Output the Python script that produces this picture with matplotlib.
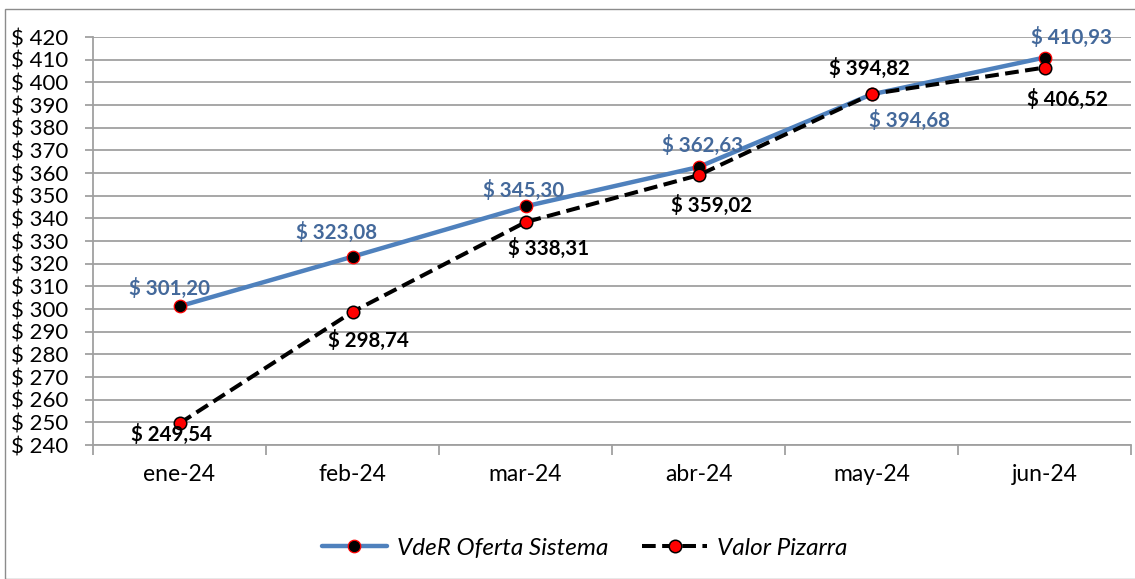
import matplotlib
matplotlib.use("Agg")
import matplotlib.pyplot as plt
from matplotlib.patches import Rectangle
import numpy as np

categories = ["ene-24", "feb-24", "mar-24", "abr-24", "may-24", "jun-24"]
oferta = [301.20, 323.08, 345.30, 362.63, 394.68, 410.93]
pizarra = [249.54, 298.74, 338.31, 359.02, 394.82, 406.52]
oferta_labels = ["$ 301,20", "$ 323,08", "$ 345,30", "$ 362,63", "$ 394,68", "$ 410,93"]
pizarra_labels = ["$ 249,54", "$ 298,74", "$ 338,31", "$ 359,02", "$ 394,82", "$ 406,52"]
yticks = list(range(240, 421, 10))
ytick_labels = ["$ %d" % v for v in yticks]

plt.rcParams['font.family'] = ['Lato', 'DejaVu Sans']

fig = plt.figure(figsize=(11.35, 5.79), dpi=100)
ax = fig.add_axes([93/1135, 1-445/579, (1131-93)/1135, (445-37)/579])

# outer chart border
fig.patches.append(Rectangle((5/1135, 0), 1.2, 1-9/579, transform=fig.transFigure,
                             fill=False, edgecolor='#8c8c8c', linewidth=1.0))

x = np.arange(len(categories))
blue = '#4F81BD'
ax.plot(x, oferta, color=blue, linewidth=3.2, marker='o', markersize=9,
        markerfacecolor='black', markeredgecolor='red', markeredgewidth=0.9,
        label='VdeR Oferta Sistema', zorder=3, solid_capstyle='round')
ax.plot(x, pizarra, color='black', linewidth=2.9, linestyle=(0, (3.4, 1.6)), marker='o',
        markersize=9, markerfacecolor='red', markeredgecolor='black', markeredgewidth=1.1,
        label='Valor Pizarra', zorder=4)

blue_off = [(-10, 18), (-16, 24), (-2, 16), (4, 22), (38, -26), (27, 20)]
black_off = [(-8, -11), (16, -29), (23, -26), (13, -30), (-2, 26), (23, -32)]
for i in range(len(x)):
    ax.annotate(oferta_labels[i], (x[i], oferta[i]), xytext=blue_off[i], textcoords='offset pixels',
                ha='center', va='center', fontsize=14.8, fontweight='bold', color='#44699B', zorder=5)
    ax.annotate(pizarra_labels[i], (x[i], pizarra[i]), xytext=black_off[i], textcoords='offset pixels',
                ha='center', va='center', fontsize=14.8, fontweight='bold', color='black', zorder=5)

ax.set_xlim(-0.5, len(x) - 0.5)
ax.set_ylim(240, 420)
ax.set_yticks(yticks)
ax.set_yticklabels(ytick_labels, fontsize=16)
ax.set_xticks(x)
ax.set_xticklabels(categories, fontsize=16.5)
ax.set_xticks(np.arange(-0.5, len(x), 1), minor=True)
ax.tick_params(axis='x', which='major', length=0, pad=14)
ax.tick_params(axis='x', which='minor', length=7, width=1.3, color='#a0a0a0')
ax.tick_params(axis='y', length=6, width=1.3, color='#a0a0a0', pad=12)
ax.grid(axis='y', color='#a0a0a0', linewidth=1.3)
ax.set_axisbelow(True)
for s in ['top', 'right']:
    ax.spines[s].set_visible(False)
for s in ['left', 'bottom']:
    ax.spines[s].set_color('#a0a0a0')
    ax.spines[s].set_linewidth(1.3)

leg = fig.legend(loc='center', bbox_to_anchor=(0.515, 1-548/579), ncol=2, frameon=False,
                 prop={'style': 'italic', 'size': 17.5}, handlelength=2.7, columnspacing=1.38,
                 handletextpad=0.4)

fig.savefig('out.png', dpi=100)
